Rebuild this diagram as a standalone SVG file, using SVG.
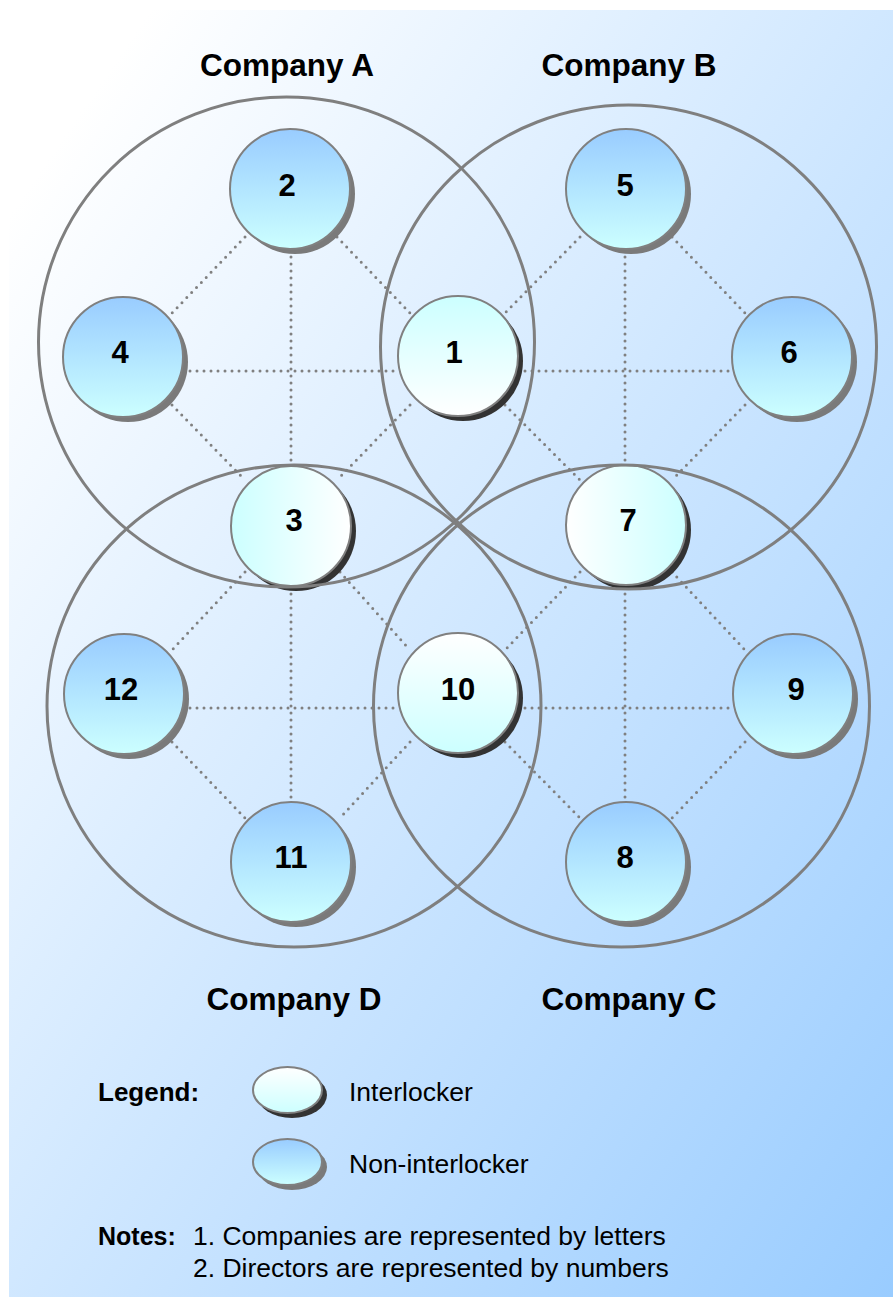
<svg xmlns="http://www.w3.org/2000/svg" width="893" height="1297" viewBox="0 0 893 1297">
<defs>
<linearGradient id="bg" x1="0" y1="0" x2="1" y2="1">
<stop offset="0" stop-color="#ffffff"/>
<stop offset="0.08" stop-color="#ffffff"/>
<stop offset="1" stop-color="#99ccff"/>
</linearGradient>
<linearGradient id="non" x1="0" y1="0" x2="0" y2="1">
<stop offset="0" stop-color="#99ccff"/>
<stop offset="1" stop-color="#ccffff"/>
</linearGradient>
<linearGradient id="intTB" x1="0" y1="0" x2="0" y2="1">
<stop offset="0" stop-color="#ccffff"/>
<stop offset="1" stop-color="#ffffff"/>
</linearGradient>
<linearGradient id="intBT" x1="0" y1="0" x2="0" y2="1">
<stop offset="0" stop-color="#ffffff"/>
<stop offset="1" stop-color="#ccffff"/>
</linearGradient>
<linearGradient id="intLR" x1="0" y1="0" x2="1" y2="0">
<stop offset="0" stop-color="#ccffff"/>
<stop offset="1" stop-color="#ffffff"/>
</linearGradient>
<linearGradient id="intRL" x1="0" y1="0" x2="1" y2="0">
<stop offset="0" stop-color="#ffffff"/>
<stop offset="1" stop-color="#ccffff"/>
</linearGradient>
</defs>
<style>
.dot{stroke:#808080;stroke-width:3;stroke-dasharray:0 7;stroke-linecap:round;fill:none}
.co{fill:none;stroke:#7f7f7f;stroke-width:3}
.nb{stroke:#808080;stroke-width:2}
.sh{fill:#7a7a7a}
.shi{fill:#333333}
.nl{font-family:"Liberation Sans",Arial,sans-serif;font-weight:bold;font-size:31px;text-anchor:middle;fill:#000}
.cl{font-family:"Liberation Sans",Arial,sans-serif;font-weight:bold;font-size:31.5px;text-anchor:middle;fill:#000}
.tb{font-family:"Liberation Sans",Arial,sans-serif;font-weight:bold;font-size:25px;fill:#000}
.tn{font-family:"Liberation Sans",Arial,sans-serif;font-size:26.5px;fill:#000}
</style>
<rect x="9" y="10" width="884" height="1287" fill="url(#bg)"/>

<g id="connectors">
<line class="dot" x1="190" y1="371" x2="398" y2="371"/>
<line class="dot" x1="525" y1="371" x2="732" y2="371"/>
<line class="dot" x1="190" y1="708" x2="398" y2="708"/>
<line class="dot" x1="525" y1="708" x2="732" y2="708"/>
<line class="dot" x1="291" y1="250" x2="291" y2="467"/>
<line class="dot" x1="291" y1="587" x2="291" y2="802"/>
<line class="dot" x1="625" y1="250" x2="625" y2="467"/>
<line class="dot" x1="625" y1="587" x2="625" y2="802"/>
<line class="dot" x1="245" y1="237" x2="172" y2="313"/>
<line class="dot" x1="337" y1="237" x2="410" y2="313"/>
<line class="dot" x1="172" y1="405" x2="245" y2="480"/>
<line class="dot" x1="410" y1="405" x2="337" y2="480"/>
<line class="dot" x1="580" y1="237" x2="505" y2="313"/>
<line class="dot" x1="672" y1="237" x2="745" y2="313"/>
<line class="dot" x1="505" y1="405" x2="580" y2="480"/>
<line class="dot" x1="745" y1="405" x2="672" y2="480"/>
<line class="dot" x1="245" y1="572" x2="172" y2="650"/>
<line class="dot" x1="340" y1="572" x2="410" y2="650"/>
<line class="dot" x1="172" y1="742" x2="245" y2="818"/>
<line class="dot" x1="410" y1="742" x2="340" y2="818"/>
<line class="dot" x1="580" y1="572" x2="505" y2="650"/>
<line class="dot" x1="672" y1="572" x2="745" y2="650"/>
<line class="dot" x1="505" y1="742" x2="580" y2="818"/>
<line class="dot" x1="745" y1="742" x2="672" y2="818"/>
</g>

<g id="node-2"><circle class="sh" cx="295" cy="194" r="60"/><circle class="nb" cx="290" cy="189" r="60" fill="url(#non)"/><text class="nl" x="287" y="196">2</text></g>
<g id="node-5"><circle class="sh" cx="631" cy="194" r="60"/><circle class="nb" cx="626" cy="189" r="60" fill="url(#non)"/><text class="nl" x="625" y="196">5</text></g>
<g id="node-4"><circle class="sh" cx="128" cy="362" r="60"/><circle class="nb" cx="123" cy="357" r="60" fill="url(#non)"/><text class="nl" x="120" y="363">4</text></g>
<g id="node-1"><circle class="shi" cx="463" cy="361" r="60"/><circle class="nb" cx="458" cy="356" r="60" fill="url(#intTB)"/><text class="nl" x="454" y="363">1</text></g>
<g id="node-6"><circle class="sh" cx="797" cy="362" r="60"/><circle class="nb" cx="792" cy="357" r="60" fill="url(#non)"/><text class="nl" x="789" y="363">6</text></g>
<g id="node-3"><circle class="shi" cx="296" cy="531" r="60"/><circle class="nb" cx="291" cy="526" r="60" fill="url(#intLR)"/><text class="nl" x="294" y="531">3</text></g>
<g id="node-7"><circle class="shi" cx="631" cy="530" r="60"/><circle class="nb" cx="626" cy="525" r="60" fill="url(#intRL)"/><text class="nl" x="628" y="531">7</text></g>
<g id="node-12"><circle class="sh" cx="129" cy="699" r="60"/><circle class="nb" cx="124" cy="694" r="60" fill="url(#non)"/><text class="nl" x="121" y="700">12</text></g>
<g id="node-10"><circle class="shi" cx="463" cy="698" r="60"/><circle class="nb" cx="458" cy="693" r="60" fill="url(#intBT)"/><text class="nl" x="458" y="700">10</text></g>
<g id="node-9"><circle class="sh" cx="798" cy="699" r="60"/><circle class="nb" cx="793" cy="694" r="60" fill="url(#non)"/><text class="nl" x="796" y="700">9</text></g>
<g id="node-11"><circle class="sh" cx="296" cy="867" r="60"/><circle class="nb" cx="291" cy="862" r="60" fill="url(#non)"/><text class="nl" x="291" y="868">11</text></g>
<g id="node-8"><circle class="sh" cx="631" cy="867" r="60"/><circle class="nb" cx="626" cy="862" r="60" fill="url(#non)"/><text class="nl" x="625" y="868">8</text></g>

<g id="company-A"><ellipse class="co" cx="286.5" cy="342" rx="248" ry="245"/><text class="cl" x="287" y="76">Company A</text></g>
<g id="company-B"><ellipse class="co" cx="628.5" cy="347" rx="248" ry="242"/><text class="cl" x="629" y="76">Company B</text></g>
<g id="company-D"><ellipse class="co" cx="294" cy="706" rx="247" ry="241"/><text class="cl" x="294" y="1010">Company D</text></g>
<g id="company-C"><ellipse class="co" cx="621.5" cy="706" rx="248" ry="241"/><text class="cl" x="629" y="1010">Company C</text></g>

<g id="legend">
<text class="tb" x="98" y="1101" style="font-size:26px">Legend:</text>
<ellipse class="shi" cx="292" cy="1095" rx="35" ry="23"/>
<ellipse class="nb" cx="287.5" cy="1090" rx="34.5" ry="23" fill="url(#intBT)"/>
<text class="tn" x="349" y="1101">Interlocker</text>
<ellipse class="sh" cx="292" cy="1167" rx="35" ry="23"/>
<ellipse class="nb" cx="287.5" cy="1162" rx="34.5" ry="23" fill="url(#non)"/>
<text class="tn" x="349" y="1173">Non-interlocker</text>
</g>
<g id="notes">
<text class="tb" x="98" y="1245">Notes:</text>
<text class="tn" x="193" y="1245">1. Companies are represented by letters</text>
<text class="tn" x="193" y="1277">2. Directors are represented by numbers</text>
</g>
</svg>
